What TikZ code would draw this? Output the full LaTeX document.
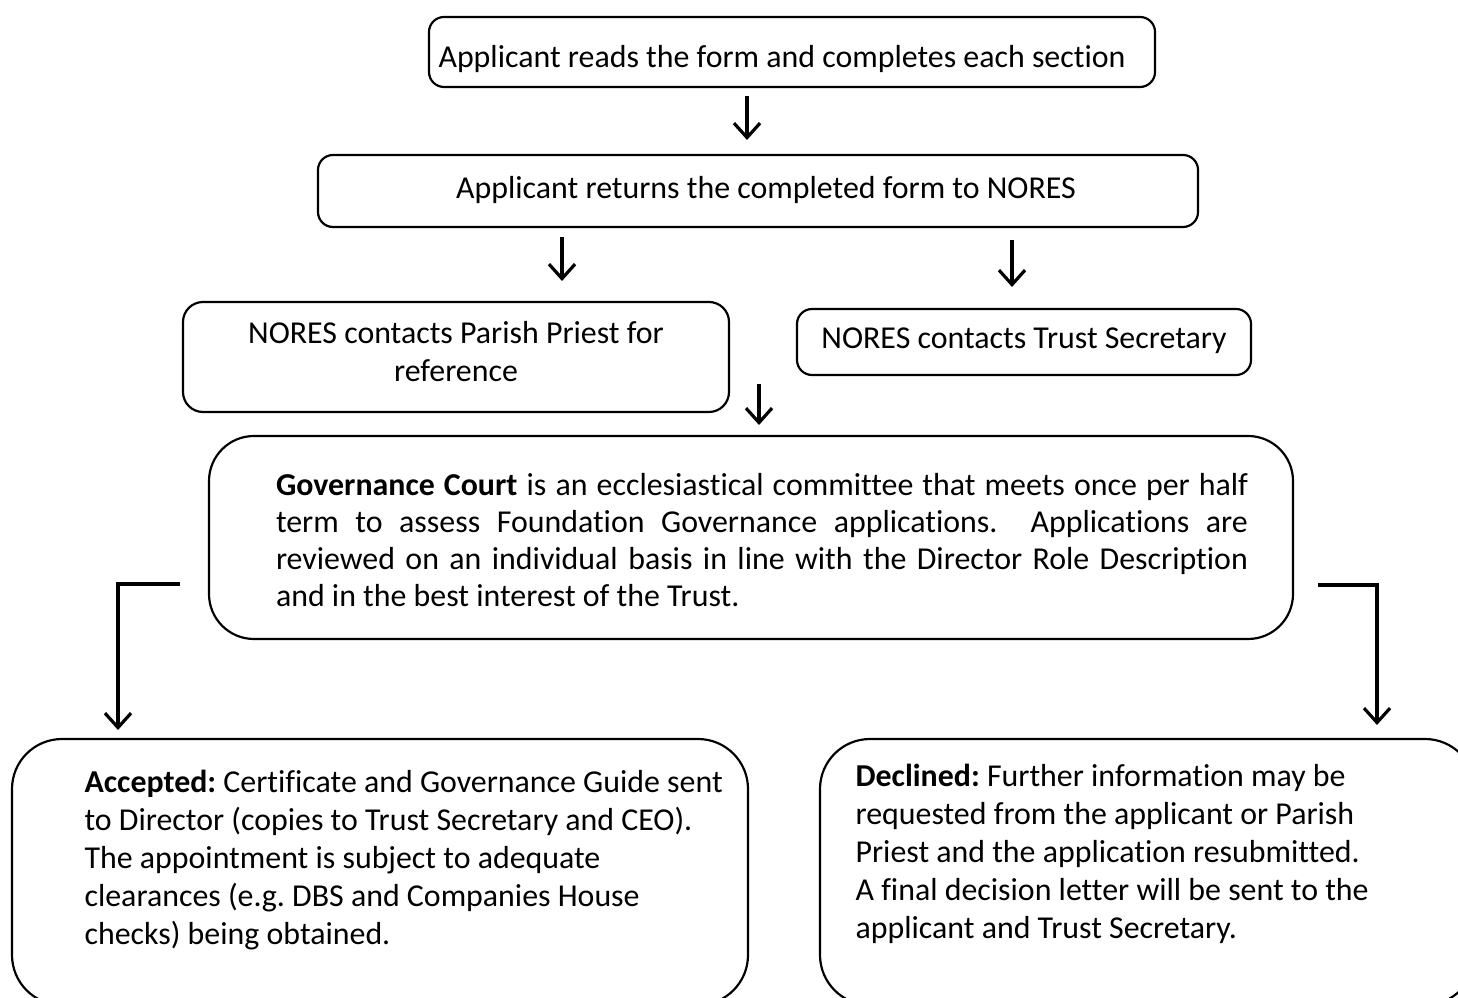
\documentclass[tikz,border=0pt]{standalone}
\usepackage{fontspec}
\setmainfont{Carlito}[Ligatures=NoCommon]
\usetikzlibrary{arrows.meta}
\newlength\px
\setlength{\px}{0.345pt}
\frenchspacing
\tikzset{
  box/.style={draw, line width=0.75pt, align=center, inner sep=0pt},
  txt/.style={inner sep=0pt},
  arr/.style={line width=1.1pt, -{Straight Barb[length=5pt,width=9pt,line width=1.1pt]}},
  base/.style={font=\fontsize{11}{13.4}\selectfont\frenchspacing},
  gov/.style={font=\fontsize{11}{12.8}\selectfont\frenchspacing},
  wide/.style={font=\fontsize{11}{13.1}\selectfont\frenchspacing}
}
\begin{document}
\begin{tikzpicture}[x=0.345pt,y=-0.345pt,base]
\useasboundingbox (0,0) rectangle (1458,998);
% boxes
\node[box, rounded corners=15\px, minimum width=726\px, text height=51\px, text depth=19\px] (b1) at (792,52) {Applicant reads the form and completes each section\hspace*{20\px}};
\node[box, rounded corners=15\px, minimum width=880\px, text height=44\px, text depth=28\px] (b2) at (758,191) {\hspace*{16\px}Applicant returns the completed form to NORES};
\node[box, rounded corners=20\px, minimum width=546\px, text height=80\px, text depth=30\px] (b3) at (456,357) {NORES contacts Parish Priest for\\reference};
\node[box, rounded corners=15\px, minimum width=454\px, text height=40\px, text depth=26\px] (b4) at (1024,342) {NORES contacts Trust Secretary};
\node[box, rounded corners=45\px, minimum width=1084\px, minimum height=203\px] (b5) at (751,537.5) {};
\node[txt, gov, text width=972\px, align=justify] (t5) at (762,540) {\textbf{Governance Court} is an ecclesiastical committee that meets once per half\linebreak term to assess Foundation Governance applications.\ \ Applications are\linebreak reviewed on an individual basis in line with the Director Role Description\linebreak and in the best interest of the Trust.};
\node[box, rounded corners=50\px, minimum width=736\px, minimum height=266\px] (b6) at (380,872) {};
\node[txt, wide, anchor=west, align=left] (t6) at (84,860) {\textbf{Accepted:} Certificate and Governance Guide sent\\to Director (copies to Trust Secretary and CEO).\\The appointment is subject to adequate\\clearances (e.g. DBS and Companies House\\checks) being obtained.};
\node[box, rounded corners=50\px, minimum width=655\px, minimum height=266\px] (b7) at (1147.5,872) {};
\node[txt, wide, anchor=west, align=left] (t7) at (855,854) {\textbf{Declined:} Further information may be\\requested from the applicant or Parish\\Priest and the application resubmitted.\\A final decision letter will be sent to the\\applicant and Trust Secretary.};
% arrow coordinates
\coordinate (a1s) at (747,96);  \coordinate (a1e) at (747,140);
\coordinate (a2s) at (562,237); \coordinate (a2e) at (562,281);
\coordinate (a3s) at (1012,240); \coordinate (a3e) at (1012,287);
\coordinate (a4s) at (759,384); \coordinate (a4e) at (759,425);
\coordinate (l1) at (180,584); \coordinate (l2) at (118,584); \coordinate (l3) at (118,730);
\coordinate (r1) at (1318,585); \coordinate (r2) at (1377,585); \coordinate (r3) at (1377,725);
\draw[arr] (a1s) -- (a1e);
\draw[arr] (a2s) -- (a2e);
\draw[arr] (a3s) -- (a3e);
\draw[arr] (a4s) -- (a4e);
\draw[arr] (l1) -- (l2) -- (l3);
\draw[arr] (r1) -- (r2) -- (r3);
\end{tikzpicture}
\end{document}
